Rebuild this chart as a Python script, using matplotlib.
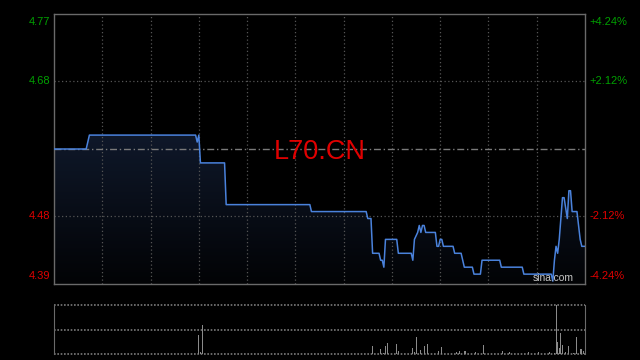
import matplotlib.pyplot as plt
import numpy as np
from matplotlib.colors import LinearSegmentedColormap

plt.rcParams['font.family'] = ['Liberation Sans', 'DejaVu Sans']

# intraday data (minutes from open, HK session = 330 min)
prev_close = 4.58
minutes = [0, 20, 22, 88, 89, 90, 91, 106, 107, 159, 160, 194, 195, 197, 198, 202, 203, 204, 205,
           206, 213, 214, 222, 223, 224, 226, 227, 228, 229, 230, 231, 237, 238, 239, 240, 241, 242,
           248, 249, 253, 255, 260, 261, 265, 266, 277, 278, 291, 292, 309, 310, 311, 312, 313, 314,
           316, 317, 319, 320, 321, 322, 325, 327, 328, 330]
prices = [4.58, 4.58, 4.60, 4.60, 4.59, 4.60, 4.56, 4.56, 4.50, 4.50, 4.49, 4.49, 4.48, 4.48, 4.43,
          4.43, 4.42, 4.42, 4.41, 4.45, 4.45, 4.43, 4.43, 4.42, 4.45, 4.46, 4.47, 4.46, 4.47, 4.47,
          4.46, 4.46, 4.44, 4.44, 4.45, 4.45, 4.44, 4.44, 4.43, 4.43, 4.41, 4.41, 4.40, 4.40, 4.42,
          4.42, 4.41, 4.41, 4.40, 4.40, 4.39, 4.42, 4.44, 4.43, 4.45, 4.51, 4.51, 4.48, 4.52, 4.52,
          4.49, 4.49, 4.45, 4.44, 4.44]

vol_minutes = [90, 91, 92, 198, 203, 205, 206, 207, 213, 214, 220, 223, 224, 225, 228, 230, 232,
               239, 241, 243, 250, 252, 255, 256, 262, 267, 279, 283, 295, 301, 308, 311, 312, 313,
               314, 315, 316, 318, 320, 323, 325, 327, 328, 329, 330]
volumes = [19, 2.5, 29, 8, 5, 1.5, 8, 11, 10, 3, 8, 6, 2, 17, 4, 8, 10, 3, 7, 1, 2, 3, 3, 3, 2,
           9, 3, 2, 2, 2, 2, 1.5, 49, 12, 6, 21, 9, 2, 8, 1.5, 17, 5, 5, 3, 2]

pct_ticks = [4.24, 2.12, -2.12, -4.24]
symbol = 'L70.CN'

green = '#00a000'
red = '#e00000'
border = '#6a6a6a'
gridc = '#555555'

fig = plt.figure(figsize=(6.4, 3.6), dpi=100, facecolor='black')
ax = fig.add_axes([54 / 640, 1 - 284 / 360, 531 / 640, 270 / 360])
axv = fig.add_axes([54 / 640, 1 - 354 / 360, 531 / 640, 49 / 360])

span = 0.0424
lo, hi = prev_close * (1 - span), prev_close * (1 + span)

for a in (ax, axv):
    a.set_facecolor('black')
    a.set_xlim(0, 330)
    a.set_xticks([])
    a.set_yticks([])

ax.set_ylim(lo, hi)
for s in ax.spines.values():
    s.set_color(border)
    s.set_linewidth(1)

# grid
for m in range(30, 330, 30):
    ax.axvline(m, color=gridc, lw=0.9, ls=(0, (1, 2)))
for p in (2.12, -2.12):
    ax.axhline(prev_close * (1 + p / 100), color=gridc, lw=0.9, ls=(0, (1, 2)))
ax.axhline(prev_close, color='#7a7a7a', lw=1, ls=(0, (5, 2, 1, 2)))

# gradient fill under the price line
cmap = LinearSegmentedColormap.from_list('fillg', ['#020305', '#0f182a'])
grad = np.linspace(0, 1, 256).reshape(-1, 1)
top_y = max(prices)
im = ax.imshow(grad, extent=[0, 330, lo, top_y], origin='lower', aspect='auto', cmap=cmap, zorder=1)
poly = ax.fill_between(minutes, prices, lo, color='none', lw=0)
im.set_clip_path(poly.get_paths()[0], transform=ax.transData)
ax.set_ylim(lo, hi)
ax.set_xlim(0, 330)

ax.plot(minutes, prices, color='#4a82dc', lw=1.1, zorder=3)

# title and watermark
ax.annotate(symbol, (0.5, prev_close), xycoords=('axes fraction', 'data'),
            xytext=(0, -7.2), textcoords='offset points', color=red, fontsize=19.5,
            ha='center', va='baseline', zorder=4)
ax.text(0.978, 0.005, 'sina.com', transform=ax.transAxes, color='#c8c8c8', fontsize=7.4,
        ha='right', va='bottom', zorder=4)

# axis labels
for p in pct_ticks:
    price = prev_close * (1 + p / 100)
    col = green if p > 0 else red
    va = 'top' if p == pct_ticks[0] else ('bottom' if p == pct_ticks[-1] else 'center')
    off = -2 if va == 'top' else (2 if va == 'bottom' else 0)
    ax.annotate(f'{price:.2f}', (0, price), xycoords=('axes fraction', 'data'),
                xytext=(-2.5, off), textcoords='offset points', ha='right', va=va,
                color=col, fontsize=8)
    ax.annotate(f'{p:+.2f}%', (1, price), xycoords=('axes fraction', 'data'),
                xytext=(3.5, off), textcoords='offset points', ha='left', va=va,
                color=col, fontsize=8)

# volume panel
axv.set_ylim(0, max(volumes))
axv.bar(vol_minutes, volumes, width=0.6, color='#8a8a8a', zorder=3)
for s in ('top', 'bottom'):
    axv.spines[s].set_visible(False)
for s in ('left', 'right'):
    axv.spines[s].set_color(border)
axv.axhline(max(volumes), color='#7a7a7a', lw=1.2, ls=(0, (1, 1)), clip_on=False)
axv.axhline(max(volumes) / 2, color='#7a7a7a', lw=1.2, ls=(0, (1, 1)))
axv.axhline(0.3, color='#7a7a7a', lw=1.2, ls=(0, (1, 1)), clip_on=False)

fig.savefig('out.png', dpi=100, facecolor='black')
